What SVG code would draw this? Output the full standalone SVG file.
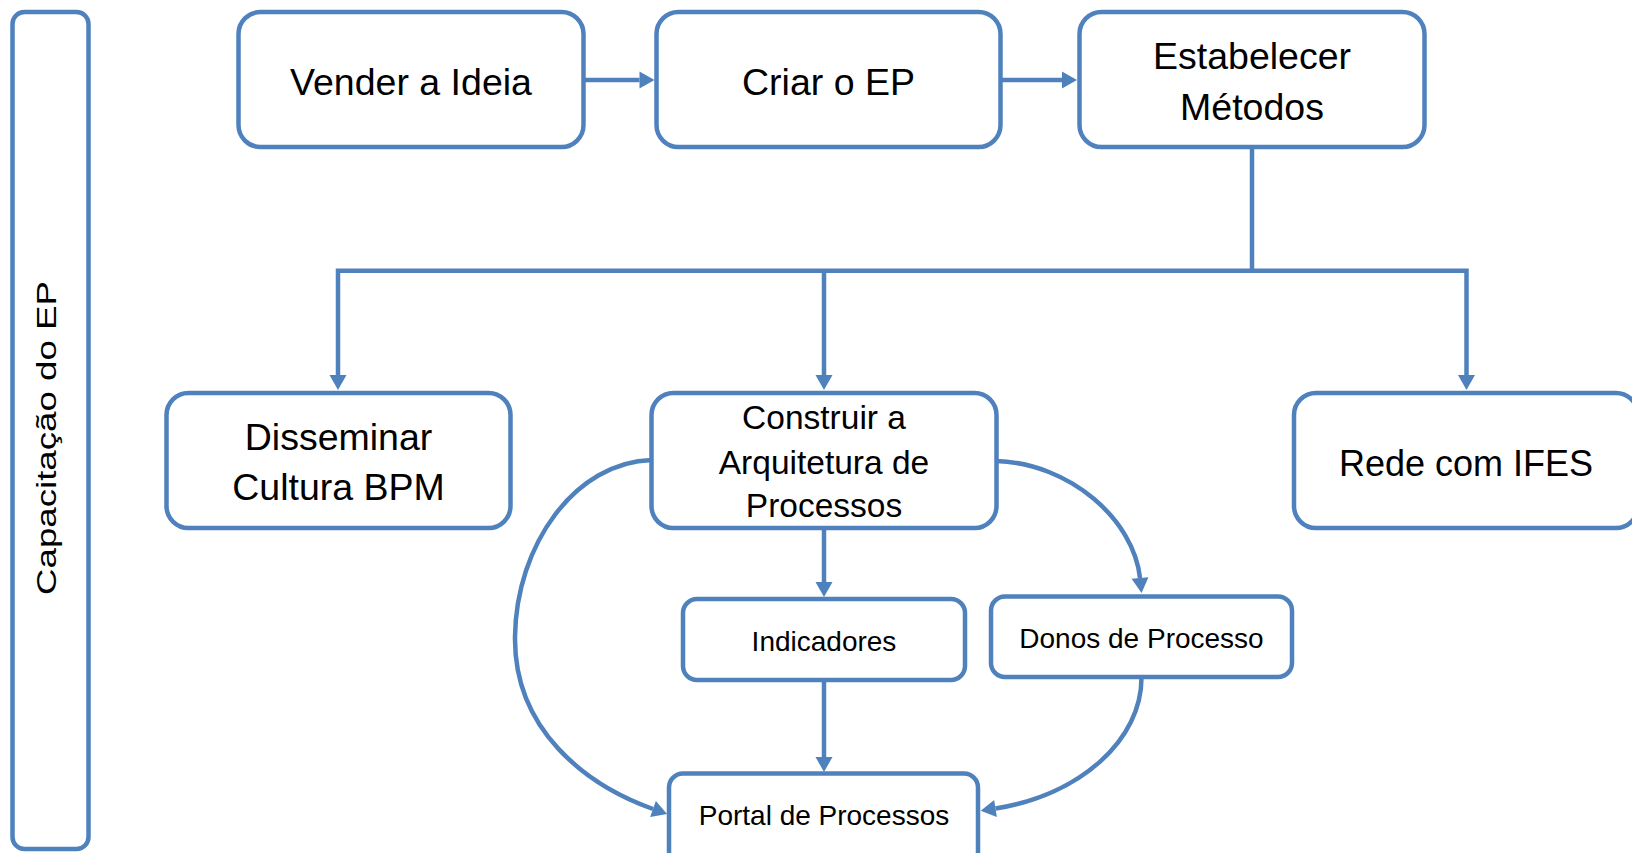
<svg xmlns="http://www.w3.org/2000/svg" width="1632" height="853" viewBox="0 0 1632 853">
<style>
.box{fill:#ffffff;stroke:#4F81BD;stroke-width:4.5}
.t{font-family:"Liberation Sans",Arial,sans-serif;fill:#000000;text-anchor:middle}
.big{font-size:37.5px}
.mid{font-size:33.5px}
.sm{font-size:28px}
.con{fill:none;stroke:#4F81BD;stroke-width:4.5;stroke-linejoin:miter}
</style>
<defs>
<marker id="ah" markerUnits="userSpaceOnUse" markerWidth="16" markerHeight="18" refX="0" refY="8.5" orient="auto" overflow="visible">
<path d="M0,0 L15,8.5 L0,17 z" fill="#4F81BD"/>
</marker>
<marker id="ahs" markerUnits="userSpaceOnUse" markerWidth="16" markerHeight="18" refX="0" refY="8.5" orient="auto-start-reverse" overflow="visible">
<path d="M0,0 L15,8.5 L0,17 z" fill="#4F81BD"/>
</marker>
</defs>
<rect width="1632" height="853" fill="#ffffff"/>

<g id="capacitacao">
<rect class="box" x="12.5" y="12" width="76" height="837" rx="12"/>
<text class="t" transform="translate(56,438) rotate(-90)" font-size="27" textLength="314" lengthAdjust="spacingAndGlyphs">Capacitação do EP</text>
</g>

<g id="connectors">
<path class="con" d="M583 80 H639.5" marker-end="url(#ah)"/>
<path class="con" d="M1000 80 H1062" marker-end="url(#ah)"/>
<path class="con" d="M1252 147 V270.7"/>
<path class="con" d="M338 375 V270.7 H1466.5 V375" marker-start="url(#ahs)" marker-end="url(#ah)"/>
<path class="con" d="M824 270.7 V375" marker-end="url(#ah)"/>
<path class="con" d="M824 528 V582" marker-end="url(#ah)"/>
<path class="con" d="M824 680 V757" marker-end="url(#ah)"/>
<path class="con" d="M652 460 C575 462 516 545 515 637 C514 730 586 785 653 809" marker-end="url(#ah)"/>
<path class="con" d="M996 461 C1070 463 1134 520 1140 578" marker-end="url(#ah)"/>
<path class="con" d="M1141.5 677 C1142 740 1080 795 995.5 808.5" marker-end="url(#ah)"/>
</g>

<g id="vender">
<rect class="box" x="238.5" y="12" width="345" height="135" rx="22"/>
<text class="t big" x="411" y="95">Vender a Ideia</text>
</g>
<g id="criar">
<rect class="box" x="656.5" y="12" width="344" height="135" rx="22"/>
<text class="t big" x="828.5" y="95">Criar o EP</text>
</g>
<g id="estabelecer">
<rect class="box" x="1079.5" y="12" width="345" height="135" rx="22"/>
<text class="t big" x="1252" y="69">Estabelecer</text>
<text class="t big" x="1252" y="120">Métodos</text>
</g>
<g id="disseminar">
<rect class="box" x="166.5" y="393" width="344" height="135" rx="22"/>
<text class="t big" x="338.5" y="450">Disseminar</text>
<text class="t big" x="338.5" y="500">Cultura BPM</text>
</g>
<g id="construir">
<rect class="box" x="651.5" y="393" width="345" height="135" rx="22"/>
<text class="t mid" x="824" y="429">Construir a</text>
<text class="t mid" x="824" y="473.5">Arquitetura de</text>
<text class="t mid" x="824" y="517">Processos</text>
</g>
<g id="rede">
<rect class="box" x="1294" y="393" width="344" height="135" rx="22"/>
<text class="t" x="1466" y="476" font-size="36">Rede com IFES</text>
</g>
<g id="indicadores">
<rect class="box" x="683" y="599" width="282" height="81" rx="14"/>
<text class="t sm" x="824" y="651">Indicadores</text>
</g>
<g id="donos">
<rect class="box" x="991" y="596.5" width="301" height="80.5" rx="14"/>
<text class="t sm" x="1141.5" y="648">Donos de Processo</text>
</g>
<g id="portal">
<rect class="box" x="669" y="773.5" width="309" height="92" rx="14"/>
<text class="t sm" x="824" y="825">Portal de Processos</text>
</g>
</svg>
